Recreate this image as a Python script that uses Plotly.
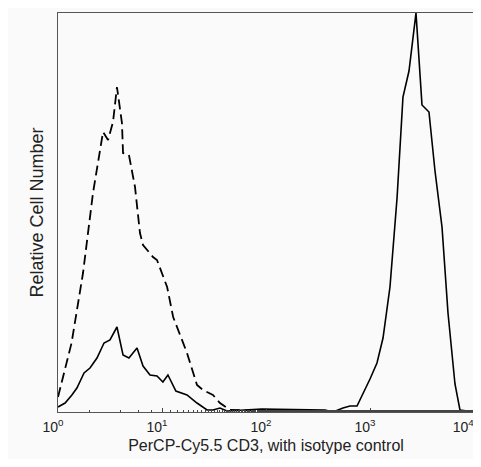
import plotly.graph_objects as go

# Isotype control (dashed) histogram: fluorescence intensity and relative counts
iso_x = [1.0, 1.35, 1.74, 2.17, 2.71, 3.03, 3.38, 3.69, 4.12, 4.22, 4.81, 5.50, 6.14, 6.57,
         8.19, 8.95, 11.2, 12.8, 17.4, 21.7, 24.8, 30.9, 36.1, 45.1, 100, 1000, 10000]
iso_y = [15, 69, 139, 219, 280, 272, 290, 325, 289, 259, 257, 225, 179, 167,
         155, 152, 125, 95, 59, 27, 22, 17, 9, 2, 1, 1, 1]

# PerCP-Cy5.5 CD3 stained (solid) histogram
cd3_x = [1.0, 1.17, 1.36, 1.52, 1.78, 2.03, 2.37, 2.77, 3.16, 3.69, 4.22, 4.81, 5.75, 6.57,
         7.67, 8.95, 10.2, 11.4, 13.6, 17.4, 21.7, 27.1, 30.9, 36.1, 42.2, 91, 369,
         441, 550, 642, 750, 857, 1000, 1167, 1334, 1556, 1820, 2075, 2371, 2768,
         3162, 3690, 4217, 4925, 5623, 6563, 7330, 10000]
cd3_y = [5, 9, 17, 24, 39, 44, 54, 69, 72, 85, 57, 54, 64, 46,
         37, 36, 30, 37, 21, 17, 9, 2, 2, 4, 1, 3, 2,
         0, 4, 6, 6, 18, 33, 49, 74, 125, 214, 315, 341, 399,
         307, 300, 241, 185, 99, 28, 2, 0]

tick_vals = [1, 10, 100, 1000, 10000]
tick_text = ["10<sup>0</sup>", "10<sup>1</sup>", "10<sup>2</sup>", "10<sup>3</sup>",
             "10<sup>4</sup>\u00a0\u00a0\u00a0"]

fig = go.Figure()
fig.add_trace(go.Scatter(x=iso_x, y=iso_y, mode="lines",
                         line=dict(color="black", width=1.8, dash="10px,5px"),
                         showlegend=False))
fig.add_trace(go.Scatter(x=cd3_x, y=cd3_y, mode="lines",
                         line=dict(color="black", width=1.6),
                         showlegend=False))

font = "Liberation Sans, Arial, sans-serif"
fig.update_layout(
    width=473, height=451,
    margin=dict(l=50, r=7, t=5, b=47, autoexpand=False),
    paper_bgcolor="#fafafa", plot_bgcolor="#fafafa",
    font=dict(family=font, size=16, color="black"),
    xaxis=dict(type="log", range=[0, 4], tickvals=tick_vals, ticktext=tick_text,
               ticks="inside", ticklen=4, tickcolor="#444",
               minor=dict(ticks="inside", ticklen=2, tickcolor="#444", showgrid=False),
               showline=True, linecolor="#555", linewidth=1, mirror=True,
               showgrid=False, zeroline=False, automargin=False,
               ticklabeloverflow="allow", ticklabelshift=-5, ticklabelstandoff=2,
               tickfont=dict(family=font, size=14, color="#222"),
               title=dict(text="PerCP-Cy5.5 CD3, with isotype control",
                          font=dict(family=font, size=16, color="#222"), standoff=6)),
    yaxis=dict(range=[0, 399], showticklabels=False, ticks="",
               showline=True, linecolor="#555", linewidth=1, mirror=True,
               showgrid=False, zeroline=False, automargin=False,
               title=dict(text="Relative Cell Number",
                          font=dict(family=font, size=18, color="#222"), standoff=8)),
)

fig.write_html("out.html")
